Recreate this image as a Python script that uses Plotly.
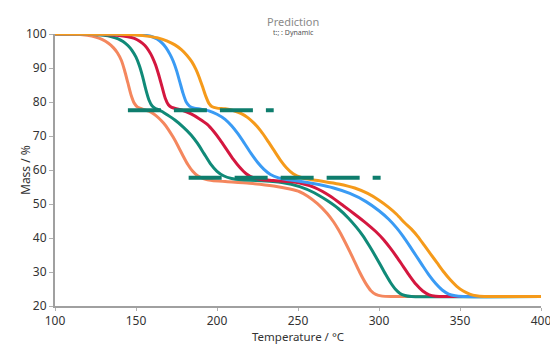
import plotly.graph_objects as go

# Mass-loss curves (temperature in °C, residual mass in %)
t_a = [100, 114, 120, 125, 129, 133, 136, 138.5, 141, 143, 145, 147, 149, 151, 154, 158, 161, 164, 167, 170,
       173, 176, 179, 182, 185, 188, 192, 197, 205, 220, 235, 245, 251, 256, 262, 268, 272, 275, 278, 282,
       285, 288, 292, 295, 298, 302, 308, 400]
m_a = [100, 99.9, 99.6, 99.1, 98.4, 97.3, 96.0, 94.5, 92.2, 89.2, 85.6, 82.0, 79.6, 78.5, 77.9, 77.3, 76.5,
       75.3, 73.8, 71.9, 69.6, 67.0, 64.2, 61.6, 59.6, 58.3, 57.4, 56.9, 56.6, 56.1, 55.3, 54.4, 53.6, 52.3,
       50.1, 47.2, 44.7, 42.4, 39.8, 36.0, 33.0, 30.0, 26.5, 24.5, 23.4, 22.9, 22.8, 22.8]

t_b = [100, 120, 130, 135, 139, 142, 145, 147.5, 150, 152, 154, 156, 158, 160, 162, 165, 169, 174, 179, 184,
       188, 192, 196, 200, 204, 209, 215, 225, 240, 251, 260, 268, 275, 281, 286, 290, 294, 298, 301, 304,
       307, 310, 313, 316, 320, 400]
m_b = [100, 99.9, 99.6, 99.2, 98.6, 97.8, 96.6, 95.2, 93.2, 90.8, 87.6, 83.8, 80.6, 78.8, 78.1, 77.5, 76.3,
       74.7, 72.7, 70.3, 67.8, 64.8, 61.8, 59.6, 58.3, 57.5, 57.1, 56.9, 56.3, 55.1, 53.3, 51.0, 48.6, 45.9,
       43.2, 40.7, 37.7, 34.5, 32.0, 29.4, 27.0, 25.0, 23.7, 23.1, 22.8, 22.8]

t_c = [100, 125, 138, 145, 149, 152.5, 155.5, 158, 160, 162, 164, 166, 168, 170, 172, 175, 179, 184, 189,
       194, 198, 202, 206, 210, 214, 218, 222, 227, 235, 245, 251, 260, 270, 278, 285, 292, 298, 303, 307,
       311, 315, 319, 323, 327, 331, 335, 342, 400]
m_c = [100, 99.9, 99.6, 99.2, 98.7, 97.8, 96.6, 95.0, 93.3, 91.0, 88.0, 84.6, 81.2, 79.2, 78.4, 78.0, 77.5,
       76.5, 75.1, 73.4, 71.3, 68.8, 66.0, 63.2, 60.8, 58.9, 57.8, 57.2, 56.9, 56.6, 56.2, 54.9, 52.3, 49.5,
       47.0, 44.4, 41.9, 39.4, 37.0, 34.4, 31.6, 28.8, 26.3, 24.4, 23.3, 22.9, 22.8, 22.8]

t_d = [100, 135, 150, 156, 160, 163, 166, 168.5, 171, 173, 175, 177, 179, 181, 183, 186, 190, 195, 200, 205,
       209, 213, 217, 221, 225, 229, 233, 238, 244, 251, 262, 272, 282, 292, 300, 306, 311, 315, 319, 323,
       327, 331, 335, 339, 343, 347, 352, 400]
m_d = [100, 99.9, 99.8, 99.6, 99.2, 98.5, 97.4, 96.0, 94.0, 92.0, 89.3, 86.0, 82.6, 80.0, 78.8, 78.2, 77.9,
       77.4, 76.4, 74.9, 73.0, 70.6, 67.8, 64.9, 62.3, 60.2, 58.7, 57.7, 57.1, 56.7, 55.8, 54.7, 53.1, 50.7,
       48.0, 45.5, 42.9, 40.4, 37.6, 34.7, 31.8, 29.0, 26.6, 24.7, 23.5, 23.0, 22.8, 22.8]

t_e = [100, 140, 150, 158, 164, 169, 174, 178, 181.5, 184.5, 187, 189, 191, 193, 195, 197, 200, 205, 210,
       215, 219, 223, 227, 231, 235, 239, 243, 247, 252, 258, 265, 275, 285, 293, 300, 306, 311, 316, 320,
       324, 328, 332, 336, 340, 344, 348, 352, 356, 360, 365, 400]
m_e = [100, 99.9, 99.7, 99.3, 98.8, 98.0, 96.8, 95.4, 93.7, 91.8, 89.6, 87.3, 84.6, 81.8, 79.6, 78.6, 78.2,
       78.0, 77.5, 76.6, 75.4, 73.7, 71.5, 68.8, 65.9, 63.0, 60.6, 58.9, 57.8, 57.2, 56.7, 55.9, 54.7, 53.1,
       51.1, 49.0, 46.9, 44.4, 42.6, 40.4, 37.8, 35.2, 32.6, 30.0, 27.7, 25.8, 24.4, 23.5, 23.0, 22.8, 22.8]

series = [
    ("Curve 1", t_a, m_a, "#F4875E"),
    ("Curve 2", t_b, m_b, "#108A78"),
    ("Curve 3", t_c, m_c, "#D4173F"),
    ("Curve 4", t_d, m_d, "#3A9BF4"),
    ("Curve 5", t_e, m_e, "#F59A1A"),
]

# Plateau reference levels (start/end temperature, mass level)
level_1_t = [145, 235]
level_1_m = [77.6, 77.6]
level_2_t = [182.5, 301]
level_2_m = [57.7, 57.7]

FONT = "Noto Sans, Open Sans, sans-serif"

fig = go.Figure()
for name, tx, my, col in series:
    fig.add_trace(go.Scatter(
        x=tx, y=my, mode="lines", name=name,
        line=dict(color=col, width=3, shape="spline", smoothing=0.6),
        hoverinfo="skip",
    ))

for tx, my in [(level_1_t, level_1_m), (level_2_t, level_2_m)]:
    fig.add_trace(go.Scatter(
        x=tx, y=my, mode="lines", showlegend=False,
        line=dict(color="#0E7D6D", width=4, dash="33px,13px"),
        hoverinfo="skip",
    ))

axis_common = dict(
    showgrid=False, zeroline=False, automargin=False,
    showline=True, linecolor="#A0A0A0", linewidth=2,
    ticks="outside", tickwidth=1, tickcolor="#B0B0B0",
    tickfont=dict(family=FONT, size=12, color="#333333"),
)

fig.update_layout(
    width=550, height=344,
    margin=dict(l=55, r=9, t=34, b=38),
    paper_bgcolor="white", plot_bgcolor="white",
    showlegend=False,
    xaxis=dict(range=[100, 400], tickvals=[100, 150, 200, 250, 300, 350, 400],
               ticklen=3, ticklabeloverflow="allow", **axis_common),
    yaxis=dict(range=[20, 100], tickvals=[20, 30, 40, 50, 60, 70, 80, 90, 100],
               ticklen=4, **axis_common),
)

# Axis titles
fig.add_annotation(text="Temperature / °C", xref="paper", yref="paper", x=0.5, y=0, yshift=-30,
                   yanchor="middle", borderpad=0, showarrow=False,
                   font=dict(family=FONT, size=11.5, color="#333333"))
fig.add_annotation(text="Mass / %", xref="paper", yref="paper", x=0, xshift=-30, y=0.5,
                   xanchor="center", textangle=-90, showarrow=False,
                   font=dict(family=FONT, size=12, color="#333333"))

# Title and subtitle
fig.add_annotation(text="Prediction", xref="paper", yref="paper", x=0.49, y=1.0, yshift=22,
                   showarrow=False, font=dict(family=FONT, size=11, color="#8A8A8A"))
fig.add_annotation(text="t:; : Dynamic", xref="paper", yref="paper", x=0.49, y=1.0, yshift=8,
                   showarrow=False, font=dict(family=FONT, size=7, color="#555555"))

fig.write_html("out.html")
